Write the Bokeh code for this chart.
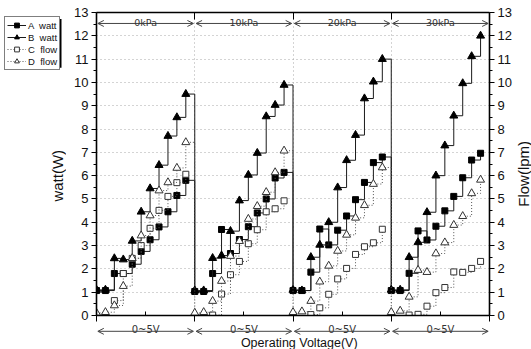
import math
from bokeh.plotting import figure
from bokeh.layouts import row, column
from bokeh.models import (Range1d, LinearAxis, FixedTicker, SingleIntervalTicker, Label,
                          Arrow, OpenHead, Legend, LegendItem, ColumnDataSource, BoxAnnotation)
from bokeh.embed import file_html
from bokeh.resources import INLINE

nan = float("nan")

# ---------------- data ----------------
sections = ["0kPa", "10kPa", "20kPa", "30kPa"]
section_voltage = "0~5V"
points_per_section = 11
series_names = ["A  watt", "B  watt", "C  flow", "D  flow"]

A_watt = [1.07, 1.07, 1.80, 1.80, 2.20, 2.75, 3.25, 3.80, 4.45, 5.15, 5.80,
          1.03, 1.03, 1.80, 3.69, 2.66, 3.26, 3.81, 4.40, 5.00, 5.90, 6.14,
          1.07, 1.07, 1.86, 3.71, 3.03, 3.66, 4.27, 4.97, 5.71, 6.56, 6.80,
          1.07, 1.07, 1.81, 3.63, 3.24, 3.83, 4.49, 5.11, 5.91, 6.67, 6.96]
B_watt = [1.10, 1.10, 2.45, 2.40, 3.20, 4.45, 5.45, 6.45, 7.70, 8.50, 9.50,
          1.07, 1.07, 2.46, 2.57, 3.62, 4.93, 6.03, 6.97, 8.54, 9.03, 9.89,
          1.10, 1.07, 2.50, 3.03, 4.00, 5.49, 6.66, 7.74, 9.31, 10.03, 11.00,
          1.10, 1.10, 2.50, 3.14, 4.43, 6.00, 7.29, 8.57, 9.96, 11.12, 12.00]
C_flow = [nan, nan, 0.64, 1.80, 2.45, 3.00, 3.74, 4.51, 5.11, 5.70, 6.06,
          nan, nan, 0.02, 0.92, 1.75, 2.32, 3.08, 3.68, 4.45, 4.58, 4.92,
          nan, nan, 0.04, 0.33, 0.91, 1.57, 2.02, 2.62, 2.95, 3.12, 3.70,
          nan, nan, 0.02, 0.05, 0.40, 0.98, 1.20, 1.87, 1.85, 2.02, 2.32]
D_flow = [0.11, 0.14, 0.43, 1.26, 2.46, 3.43, 4.29, 5.36, 5.71, 6.33, 7.43,
          0.11, 0.14, 0.62, 1.48, 2.55, 3.19, 4.14, 4.69, 5.29, 6.14, 7.07,
          0.14, 0.17, 0.62, 1.45, 2.13, 2.77, 3.46, 4.19, 4.73, 5.64, 6.35,
          0.14, 0.20, 0.80, 1.95, 1.86, 2.66, 3.13, 3.88, 4.26, 5.24, 5.82]

y_max = 13
n_total = len(sections) * points_per_section
x_idx = list(range(n_total))
boundaries = [i * points_per_section for i in range(len(sections) + 1)]
centers = [b + points_per_section / 2 for b in boundaries[:-1]]

src = ColumnDataSource(dict(x=x_idx, A=A_watt, B=B_watt, C=C_flow, D=D_flow))

FONT = "Liberation Sans"
SMALL = "DejaVu Sans"
INK = "#111111"

# ---------------- layout sizes ----------------
TOP_H = 323          # height of the row holding the main plot
BOT_H = 349 - TOP_H  # strip below for section labels, arrows and x title
LEFT_W = 66
RIGHT_W = 17
MAIN_W = 531 - LEFT_W - RIGHT_W

x_range = Range1d(0, n_total)


def bare(width, height, xr, yr, **kw):
    f = figure(width=width, height=height, x_range=xr, y_range=yr,
               x_axis_type=None, y_axis_type=None, output_backend="svg",
               toolbar_location=None, title=None,
               min_border_top=0, min_border_bottom=0, **kw)
    f.outline_line_color = None
    f.background_fill_color = "white"
    f.border_fill_color = "white"
    f.xgrid.visible = False
    f.ygrid.visible = False
    return f


# ---------------- main plot ----------------
p = figure(width=MAIN_W, height=TOP_H, x_range=x_range, y_range=Range1d(0, y_max),
           output_backend="svg", toolbar_location=None, title=None,
           min_border_left=30, min_border_right=25, min_border_top=12,
           min_border_bottom=TOP_H - 315)
p.background_fill_color = "white"
p.border_fill_color = "white"
p.outline_line_color = None

p.ygrid.ticker = FixedTicker(ticks=list(range(1, y_max)))
p.xgrid.ticker = FixedTicker(ticks=boundaries[1:-1])
for g in (p.xgrid, p.ygrid):
    g.grid_line_color = "#a8a8a8"
    g.grid_line_dash = "1 3"
    g.grid_line_width = 1

yl = p.yaxis[0]
yl.ticker = SingleIntervalTicker(interval=1, num_minor_ticks=2)
yr = LinearAxis(ticker=SingleIntervalTicker(interval=1, num_minor_ticks=2))
p.add_layout(yr, "right")
for ax in (yl, yr):
    ax.axis_line_width = 1.6
    ax.axis_line_color = "black"
    ax.major_tick_out = 5
    ax.major_tick_in = 0
    ax.minor_tick_out = 3
    ax.minor_tick_in = 0
    ax.major_tick_line_color = "black"
    ax.minor_tick_line_color = "black"
    ax.major_label_text_font = FONT
    ax.major_label_text_font_size = "13px"
    ax.major_label_text_color = INK
    ax.major_label_standoff = 3

xb = p.xaxis[0]
xb.ticker = FixedTicker(ticks=centers, minor_ticks=boundaries)
xb.axis_line_width = 1.6
xb.major_tick_in = 4
xb.major_tick_out = 0
xb.minor_tick_in = 0
xb.minor_tick_out = 6
xb.major_tick_line_color = "black"
xb.minor_tick_line_color = "black"
xb.major_label_text_font_size = "1px"
xb.major_label_text_alpha = 0
xb.major_label_standoff = 0

xt = LinearAxis(ticker=FixedTicker(ticks=boundaries[1:-1]))
xt.axis_line_width = 1.6
xt.major_tick_in = 7
xt.major_tick_out = 0
xt.minor_tick_line_color = None
xt.major_label_text_font_size = "1px"
xt.major_label_text_alpha = 0
xt.major_label_standoff = 0
p.add_layout(xt, "above")

styles = {
    "A": dict(line=dict(line_color="#1a1a1a", line_width=1),
              marker=dict(marker="square", size=6, fill_color="black", line_color="black")),
    "B": dict(line=dict(line_color="#1a1a1a", line_width=1),
              marker=dict(marker="triangle", size=8, fill_color="black", line_color="black")),
    "C": dict(line=dict(line_color="#555555", line_width=1, line_dash="1 2"),
              marker=dict(marker="square", size=6, fill_color="white", line_color="#333333")),
    "D": dict(line=dict(line_color="#555555", line_width=1, line_dash="1 2"),
              marker=dict(marker="triangle", size=8, fill_color="white", line_color="#333333")),
}
for key in ["A", "B", "C", "D"]:
    p.step(x="x", y=key, source=src, mode="after", **styles[key]["line"])
    p.scatter(x="x", y=key, source=src, **styles[key]["marker"])

top_arrow_y = 12.53
top_text_y = 12.59
for i, name in enumerate(sections):
    p.add_layout(Arrow(x_start=boundaries[i] + 0.15, x_end=boundaries[i + 1] - 0.15,
                       y_start=top_arrow_y, y_end=top_arrow_y,
                       start=OpenHead(size=6, line_color="#444444", line_width=1),
                       end=OpenHead(size=6, line_color="#444444", line_width=1),
                       line_color="#444444", line_width=1))
    p.add_layout(Label(x=centers[i], y=top_text_y, text=name, text_align="center",
                       text_baseline="alphabetic", text_font=SMALL,
                       text_font_size="9.5px", text_color="#333333"))

# ---------------- left strip: legend + y title ----------------
lf = bare(LEFT_W, TOP_H, Range1d(0, LEFT_W), Range1d(TOP_H, 0),
          min_border_left=0, min_border_right=0)
legend_renderers = []
for key in ["A", "B", "C", "D"]:
    # legend-only renderers: a single empty (NaN) point, nothing is drawn in the strip
    ln = lf.line(x=[nan], y=[nan], **styles[key]["line"])
    mk = lf.scatter(x=[nan], y=[nan], **styles[key]["marker"])
    legend_renderers.append([ln, mk])

LEG_M, LEG_PAD, LEG_GW, LEG_LW, LEG_ROW, LEG_STAND = 4, 2, 19, 29, 12, 2
leg_w = 2 * LEG_PAD + LEG_GW + LEG_STAND + LEG_LW
leg_h = 2 * LEG_PAD + len(series_names) * LEG_ROW
SH = 3  # drop shadow offset
lf.add_layout(BoxAnnotation(left=LEG_M + SH, right=LEG_M + SH + leg_w,
                            top=LEG_M + SH, bottom=LEG_M + SH + leg_h,
                            fill_color="black", fill_alpha=1, line_color=None))
legend = Legend(items=[LegendItem(label=n, renderers=r)
                       for n, r in zip(series_names, legend_renderers)],
                location="top_left", padding=LEG_PAD, spacing=0, margin=LEG_M,
                glyph_width=LEG_GW, glyph_height=LEG_ROW, label_height=LEG_ROW,
                label_width=LEG_LW, label_standoff=LEG_STAND,
                label_text_font=FONT, label_text_font_size="9.5px",
                label_text_color=INK,
                background_fill_color="white", background_fill_alpha=1,
                border_line_color="black", border_line_width=1)
lf.add_layout(legend, "center")
lf.add_layout(Label(x=57, y=174, angle=math.pi / 2, text="watt(W)",
                    text_align="center", text_baseline="middle", text_font=FONT,
                    text_font_size="15px", text_color=INK))

# ---------------- right strip: secondary y title ----------------
rf = bare(RIGHT_W, TOP_H, Range1d(0, RIGHT_W), Range1d(TOP_H, 0),
          min_border_left=0, min_border_right=0)
rf.add_layout(Label(x=8.5, y=172, angle=math.pi / 2, text="Flow(lpm)",
                    text_align="center", text_baseline="middle", text_font=FONT,
                    text_font_size="15px", text_color=INK))

# ---------------- bottom strip: voltage labels, arrows, x title ----------------
bf = bare(531, BOT_H, x_range, Range1d(BOT_H, 0),
          min_border_left=96, min_border_right=42)
for i in range(len(sections)):
    bf.add_layout(Label(x=centers[i], y=6.0, text=section_voltage, text_align="center",
                        text_baseline="alphabetic", text_font=SMALL,
                        text_font_size="10px", text_color="#333333"))
    bf.add_layout(Arrow(x_start=boundaries[i] + 0.15, x_end=boundaries[i + 1] - 0.15,
                        y_start=7.8, y_end=7.8,
                        start=OpenHead(size=6, line_color="#444444", line_width=1),
                        end=OpenHead(size=6, line_color="#444444", line_width=1),
                        line_color="#444444", line_width=1))
bf.add_layout(Label(x=22.7, y=19.3, text="Operating Voltage(V)",
                    text_align="center", text_baseline="alphabetic", text_font=FONT,
                    text_font_size="12.5px", text_color=INK))

layout = column(row(lf, p, rf), bf)
open("out.html", "w").write(file_html(layout, INLINE))
